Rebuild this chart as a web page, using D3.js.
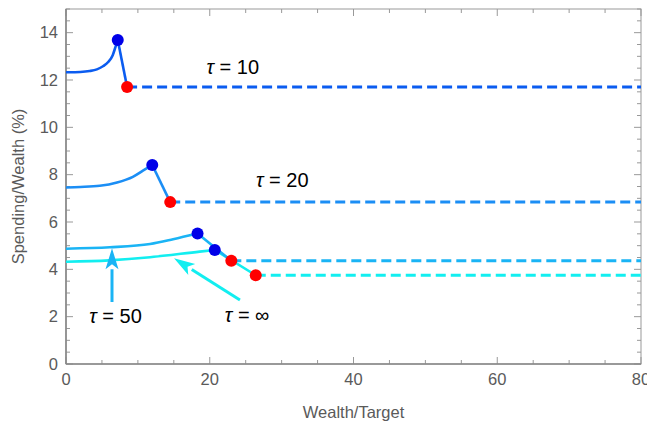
<!DOCTYPE html>
<html>
<head>
<meta charset="utf-8">
<script src="https://cdn.jsdelivr.net/npm/d3@7"></script>
<style>
  body { margin: 0; background: #fff; }
  text { font-family: "Liberation Sans", Arial, sans-serif; }
</style>
</head>
<body>
<script>
// series names
var taus = ["10", "20", "50", "∞"];

// rising part of each curve: wealth/target and spending/wealth (%)
var wealth10 = [0, 0.5, 2.0, 3.3, 4.3, 5.2, 5.9, 6.5, 6.9, 7.2];
var spend10 = [12.33, 12.33, 12.34, 12.38, 12.45, 12.59, 12.77, 13.05, 13.41, 13.69];
var wealth20 = [0, 2.0, 4.7, 7.1, 9.3, 10.7, 12.0];
var spend20 = [7.46, 7.48, 7.53, 7.67, 7.91, 8.17, 8.41];
var wealth50 = [0, 6.1, 11.7, 14.9, 18.3];
var spend50 = [4.87, 4.93, 5.07, 5.27, 5.51];
var wealthInf = [0, 6.0, 11.7, 18.6, 20.7];
var spendInf = [4.32, 4.38, 4.51, 4.75, 4.82];

// kink points (blue) and red points where the flat level starts
var blueX = [7.2, 12.0, 18.3, 20.7];
var blueY = [13.69, 8.41, 5.51, 4.82];
var redX = [8.5, 14.5, 23.0, 26.4];
var redY = [11.7, 6.84, 4.36, 3.75];

var xTicks = [0, 20, 40, 60, 80];
var yTicks = [0, 2, 4, 6, 8, 10, 12, 14];

var colors = ["#0b5cf0", "#1b8ef5", "#1ab4f5", "#12eef0"];

var curves = [
    {x: wealth10, y: spend10},
    {x: wealth20, y: spend20},
    {x: wealth50, y: spend50},
    {x: wealthInf, y: spendInf}
];

var W = 647, H = 425;
var margin = {top: 9, right: 6, bottom: 61, left: 66}
    , width = W - margin.left - margin.right
    , height = H - margin.top - margin.bottom;

var svg = d3.select('body').append('svg').attr('width', W).attr('height', H);
var main = svg.append('g')
    .attr('transform', 'translate(' + margin.left + ',' + margin.top + ')');

var xscale = d3.scaleLinear().domain([0, 80]).range([0, width]);
var yscale = d3.scaleLinear().domain([0, 15]).range([height, 0]);

var frameColor = "#999";
var labelColor = "#5a5a5a";

// minor + major ticks, pointing inward on all four sides
var xMinor = d3.range(0, 81, 5);
var yMinor = d3.range(0, 15.01, 0.5);

function tickLen(v, step) {
    return Math.abs(v / step - Math.round(v / step)) < 1e-6 ? 7 : 4;
}

var ticks = main.append('g').attr('stroke', frameColor).attr('stroke-width', 1);
xMinor.forEach(function (v) {
    var L = tickLen(v, 20);
    ticks.append('line').attr('x1', xscale(v)).attr('x2', xscale(v))
        .attr('y1', height).attr('y2', height - L);
    ticks.append('line').attr('x1', xscale(v)).attr('x2', xscale(v))
        .attr('y1', 0).attr('y2', L);
});
yMinor.forEach(function (v) {
    var L = tickLen(v, 2);
    ticks.append('line').attr('y1', yscale(v)).attr('y2', yscale(v))
        .attr('x1', 0).attr('x2', L);
    ticks.append('line').attr('y1', yscale(v)).attr('y2', yscale(v))
        .attr('x1', width).attr('x2', width - L);
});

// frame
main.append('rect')
    .attr('width', width).attr('height', height)
    .attr('fill', 'none').attr('stroke', frameColor).attr('stroke-width', 1);
main.append('line').attr('x1', 0).attr('x2', width).attr('y1', height).attr('y2', height)
    .attr('stroke', '#888').attr('stroke-width', 1.6);
main.append('line').attr('x1', 0).attr('x2', 0).attr('y1', 0).attr('y2', height)
    .attr('stroke', '#888').attr('stroke-width', 1.6);

// tick labels
main.selectAll('.xl').data(xTicks).enter().append('text')
    .attr('x', function (d) { return xscale(d); })
    .attr('y', height + 21)
    .attr('text-anchor', 'middle')
    .attr('font-size', 16.5).attr('fill', labelColor)
    .text(function (d) { return d; });
main.selectAll('.yl').data(yTicks).enter().append('text')
    .attr('x', -8)
    .attr('y', function (d) { return yscale(d) + 5.5; })
    .attr('text-anchor', 'end')
    .attr('font-size', 16.5).attr('fill', labelColor)
    .text(function (d) { return d; });

// axis titles
svg.append('text')
    .attr('x', margin.left + width / 2).attr('y', 418)
    .attr('text-anchor', 'middle')
    .attr('font-size', 16.5).attr('fill', labelColor)
    .text('Wealth/Target');
svg.append('text')
    .attr('transform', 'translate(24,' + (margin.top + height / 2) + ') rotate(-90)')
    .attr('text-anchor', 'middle')
    .attr('font-size', 16.5).attr('fill', labelColor)
    .text('Spending/Wealth (%)');

var line = d3.line()
    .x(function (d) { return xscale(d[0]); })
    .y(function (d) { return yscale(d[1]); })
    .curve(d3.curveMonotoneX);

// draw in reverse so the tau = 10 curve sits on top
for (var i = taus.length - 1; i >= 0; i--) {
    var pts = curves[i].x.map(function (v, j) { return [v, curves[i].y[j]]; });
    main.append('path')
        .attr('d', line(pts))
        .attr('fill', 'none').attr('stroke', colors[i]).attr('stroke-width', 2.6);
    // drop from kink to red point
    main.append('line')
        .attr('x1', xscale(blueX[i])).attr('y1', yscale(blueY[i]))
        .attr('x2', xscale(redX[i])).attr('y2', yscale(redY[i]))
        .attr('stroke', colors[i]).attr('stroke-width', 2.6);
    // flat dashed level out to the edge
    main.append('line')
        .attr('x1', xscale(redX[i])).attr('y1', yscale(redY[i]))
        .attr('x2', xscale(80)).attr('y2', yscale(redY[i]))
        .attr('stroke', colors[i]).attr('stroke-width', 3)
        .attr('stroke-dasharray', '10,5');
}

for (var k = taus.length - 1; k >= 0; k--) {
    main.append('circle')
        .attr('cx', xscale(blueX[k])).attr('cy', yscale(blueY[k]))
        .attr('r', 6).attr('fill', '#0000e8');
    main.append('circle')
        .attr('cx', xscale(redX[k])).attr('cy', yscale(redY[k]))
        .attr('r', 6).attr('fill', '#ff0000');
}

// arrows for the two bottom labels, data units
var arrowFrom = [[6.4, 2.62], [24.2, 2.70]];
var arrowTo = [[6.4, 4.89], [15.03, 4.47]];
var arrowColors = [colors[2], colors[3]];

arrowFrom.forEach(function (a, j) {
    var x0 = xscale(a[0]), y0 = yscale(a[1]);
    var x1 = xscale(arrowTo[j][0]), y1 = yscale(arrowTo[j][1]);
    var ang = Math.atan2(y1 - y0, x1 - x0);
    var hl = 21, hw = 6.5;
    var bx = x1 - hl * Math.cos(ang), by = y1 - hl * Math.sin(ang);
    main.append('line')
        .attr('x1', x0).attr('y1', y0).attr('x2', bx).attr('y2', by)
        .attr('stroke', arrowColors[j]).attr('stroke-width', 3);
    var p = [
        [x1, y1],
        [bx - hw * Math.sin(ang), by + hw * Math.cos(ang)],
        [x1 - (hl - 5) * Math.cos(ang), y1 - (hl - 5) * Math.sin(ang)],
        [bx + hw * Math.sin(ang), by - hw * Math.cos(ang)]
    ];
    main.append('polygon')
        .attr('points', p.map(function (q) { return q.join(','); }).join(' '))
        .attr('fill', arrowColors[j]);
});

// tau labels, anchor points in data units (text centre, baseline)
var labelX = [23.2, 30.1, 6.9, 25.2];
var labelY = [12.25, 7.48, 1.74, 1.77];

taus.forEach(function (t, j) {
    var txt = main.append('text')
        .attr('x', xscale(labelX[j])).attr('y', yscale(labelY[j]))
        .attr('text-anchor', 'middle')
        .attr('font-size', 20).attr('fill', '#000');
    txt.append('tspan').attr('font-style', 'italic').text('τ');
    txt.append('tspan').text(' = ' + t);
});
</script>
</body>
</html>
